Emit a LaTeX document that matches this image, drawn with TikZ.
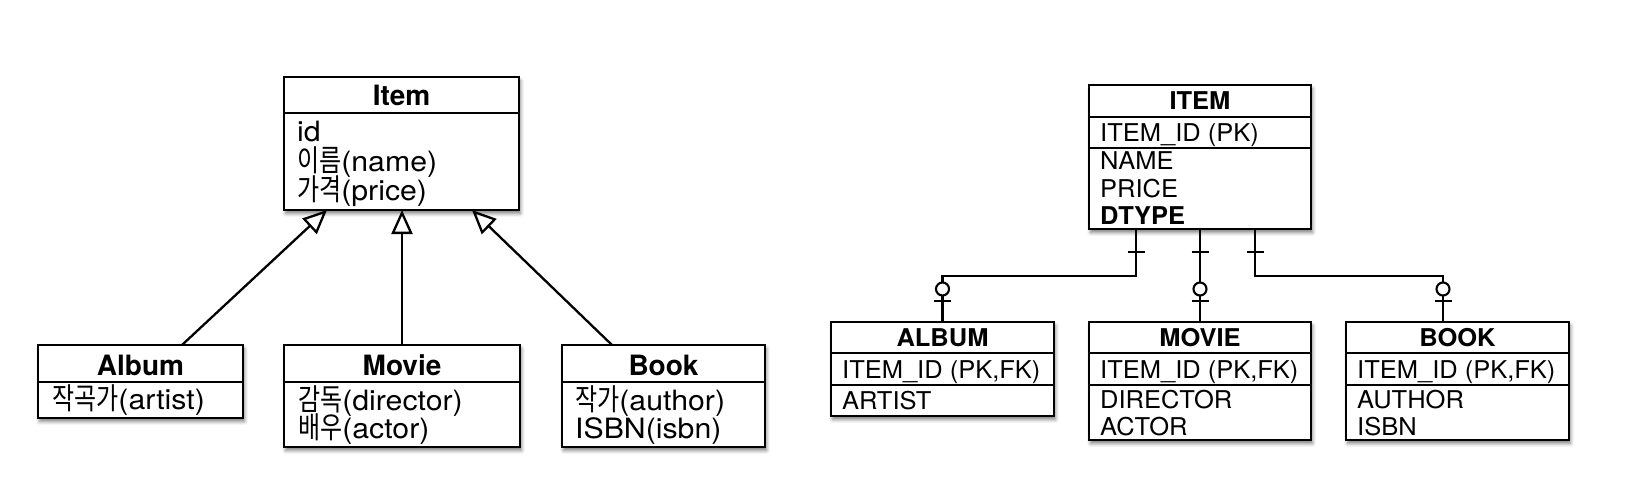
\documentclass[tikz,border=0pt]{standalone}
\usepackage{fontspec}
\usetikzlibrary{arrows.meta,shadows.blur,calc}
\newfontfamily\hv{TeX Gyre Heros}
\newfontfamily\hvl{TeX Gyre Heros}[FakeStretch=1.08]
\newfontfamily\hvw{TeX Gyre Heros}[FakeStretch=1.04]
\newfontfamily\kr{Noto Sans CJK KR}[FakeStretch=0.8]
\newcommand\kor[1]{{\kr\fontsize{30}{30}\selectfont #1}}
\begin{document}
\begin{tikzpicture}[x=1pt,y=-1pt,
  tbl/.style={draw, line width=2.8pt, fill=white, inner sep=0pt, outer sep=0pt, anchor=north west,
    blur shadow={shadow xshift=1.5pt, shadow yshift=-3.5pt, shadow blur radius=3.5pt, shadow opacity=50}},
  cell/.style={draw, line width=2pt, inner sep=0pt, outer sep=0pt, anchor=north west},
  ltitle/.style={font=\hv\bfseries\fontsize{28}{28}\selectfont, inner sep=0pt, anchor=base},
  lrow/.style={font=\hvl\fontsize{28}{28}\selectfont, inner sep=0pt, anchor=base west},
  rtitle/.style={font=\hvw\bfseries\fontsize{24.5}{24.5}\selectfont, inner sep=0pt, anchor=base},
  rrow/.style={font=\hvw\fontsize{24.5}{24.5}\selectfont, inner sep=0pt, anchor=base west},
  inh/.style={line width=2.3pt, -{Triangle[open, length=24pt, width=21pt, line width=2.3pt]}},
  er/.style={line width=2.1pt},
  ercirc/.style={line width=2.1pt, fill=white}]
\useasboundingbox (0,0) rectangle (1635,503);

% ---------------- left: class diagram ----------------
\node[tbl, minimum width=235pt, minimum height=133pt] (item) at (284,77) {};
\node[cell, minimum width=235pt, minimum height=36pt] (itemT) at (item.north west) {};
\node[cell, minimum width=235pt, minimum height=97pt] (itemB) at (itemT.south west) {};
\node[ltitle] (itemTn) at (401.5,105) {Item};
\node[lrow] (itemR1) at (297,141) {id};
\node[lrow] (itemR2) at (297,171) {\kor{이름}(name)};
\node[lrow] (itemR3) at (297,200) {\kor{가격}(price)};

\node[tbl, minimum width=205pt, minimum height=73pt] (album) at (38,345) {};
\node[cell, minimum width=205pt, minimum height=37pt] (albumT) at (album.north west) {};
\node[cell, minimum width=205pt, minimum height=36pt] (albumB) at (albumT.south west) {};
\node[ltitle] (albumTn) at (140.5,375) {Album};
\node[lrow] (albumR1) at (52,409) {\kor{작곡가}(artist)};

\node[tbl, minimum width=236pt, minimum height=102pt] (movie) at (284,345) {};
\node[cell, minimum width=236pt, minimum height=37pt] (movieT) at (movie.north west) {};
\node[cell, minimum width=236pt, minimum height=65pt] (movieB) at (movieT.south west) {};
\node[ltitle] (movieTn) at (402,375) {Movie};
\node[lrow] (movieR1) at (298,410) {\kor{감독}(director)};
\node[lrow] (movieR2) at (298,438) {\kor{배우}(actor)};

\node[tbl, minimum width=203pt, minimum height=102pt] (book) at (562,345) {};
\node[cell, minimum width=203pt, minimum height=37pt] (bookT) at (book.north west) {};
\node[cell, minimum width=203pt, minimum height=65pt] (bookB) at (bookT.south west) {};
\node[ltitle] (bookTn) at (663.5,375) {Book};
\node[lrow] (bookR1) at (575,410) {\kor{작가}(author)};
\node[lrow] (bookR2) at (575,438) {ISBN(isbn)};

\draw[inh] ([xshift=41.5pt]album.north) -- ([xshift=-74.5pt]item.south);
\draw[inh] (movie.north) -- (movie.north |- item.south);
\draw[inh] ([xshift=-51.5pt]book.north) -- ([xshift=70.5pt]item.south);

% ---------------- right: table diagram ----------------
\node[tbl, minimum width=222pt, minimum height=144pt] (itemR) at (1089,85) {};
\node[cell, minimum width=222pt, minimum height=32pt] (itemRa) at (itemR.north west) {};
\node[cell, minimum width=222pt, minimum height=31pt] (itemRb) at (itemRa.south west) {};
\node[cell, minimum width=222pt, minimum height=81pt] (itemRc) at (itemRb.south west) {};
\node[rtitle] (itemRn) at (1200,109) {ITEM};
\node[rrow] (itemRr1) at (1100,141) {ITEM\_ID (PK)};
\node[rrow] (itemRr2) at (1100,169) {NAME};
\node[rrow] (itemRr3) at (1100,197) {PRICE};
\node[rrow, font=\hvw\bfseries\fontsize{24.5}{24.5}\selectfont] (itemRr4) at (1100,224) {DTYPE};

\node[tbl, minimum width=223pt, minimum height=94pt] (albumR) at (831,322) {};
\node[cell, minimum width=223pt, minimum height=31pt] (albumRa) at (albumR.north west) {};
\node[cell, minimum width=223pt, minimum height=32pt] (albumRb) at (albumRa.south west) {};
\node[cell, minimum width=223pt, minimum height=31pt] (albumRc) at (albumRb.south west) {};
\node[rtitle] (albumRn) at (942.5,346) {ALBUM};
\node[rrow] (albumRr1) at (842,378) {ITEM\_ID (PK,FK)};
\node[rrow] (albumRr2) at (842,409) {ARTIST};

\node[tbl, minimum width=222pt, minimum height=118pt] (movieR) at (1089,322) {};
\node[cell, minimum width=222pt, minimum height=31pt] (movieRa) at (movieR.north west) {};
\node[cell, minimum width=222pt, minimum height=32pt] (movieRb) at (movieRa.south west) {};
\node[cell, minimum width=222pt, minimum height=55pt] (movieRc) at (movieRb.south west) {};
\node[rtitle] (movieRn) at (1200,346) {MOVIE};
\node[rrow] (movieRr1) at (1100,378) {ITEM\_ID (PK,FK)};
\node[rrow] (movieRr2) at (1100,408) {DIRECTOR};
\node[rrow] (movieRr3) at (1100,435) {ACTOR};

\node[tbl, minimum width=223pt, minimum height=118pt] (bookR) at (1346,322) {};
\node[cell, minimum width=223pt, minimum height=31pt] (bookRa) at (bookR.north west) {};
\node[cell, minimum width=223pt, minimum height=32pt] (bookRb) at (bookRa.south west) {};
\node[cell, minimum width=223pt, minimum height=55pt] (bookRc) at (bookRb.south west) {};
\node[rtitle] (bookRn) at (1457.5,346) {BOOK};
\node[rrow] (bookRr1) at (1357,378) {ITEM\_ID (PK,FK)};
\node[rrow] (bookRr2) at (1357,408) {AUTHOR};
\node[rrow] (bookRr3) at (1357,435) {ISBN};

% connectors
\coordinate (pA) at ([xshift=-64pt]itemR.south);
\coordinate (pM) at (itemR.south);
\coordinate (pB) at ([xshift=55pt]itemR.south);
\coordinate (jA) at (942.5,276);
\coordinate (jB) at (1443,276);
\coordinate (cA) at (albumR.north);
\coordinate (cM) at (movieR.north);
\coordinate (cB) at (jB |- bookR.north);

\draw[er] (pA) |- (jA) -- (cA);
\draw[er] (pM) -- (cM);
\draw[er] (pB) |- (jB) -- (cB);

\foreach \p in {pA,pM,pB} {
  \draw[er] ($(\p)+(-8.5,23)$) -- ++(17,0);
}
\foreach \c in {cA,cM,cB} {
  \draw[er] ($(\c)+(-8.5,-21)$) -- ++(17,0);
  \draw[ercirc] ($(\c)+(0,-33)$) circle (6.5pt);
}
\end{tikzpicture}
\end{document}
